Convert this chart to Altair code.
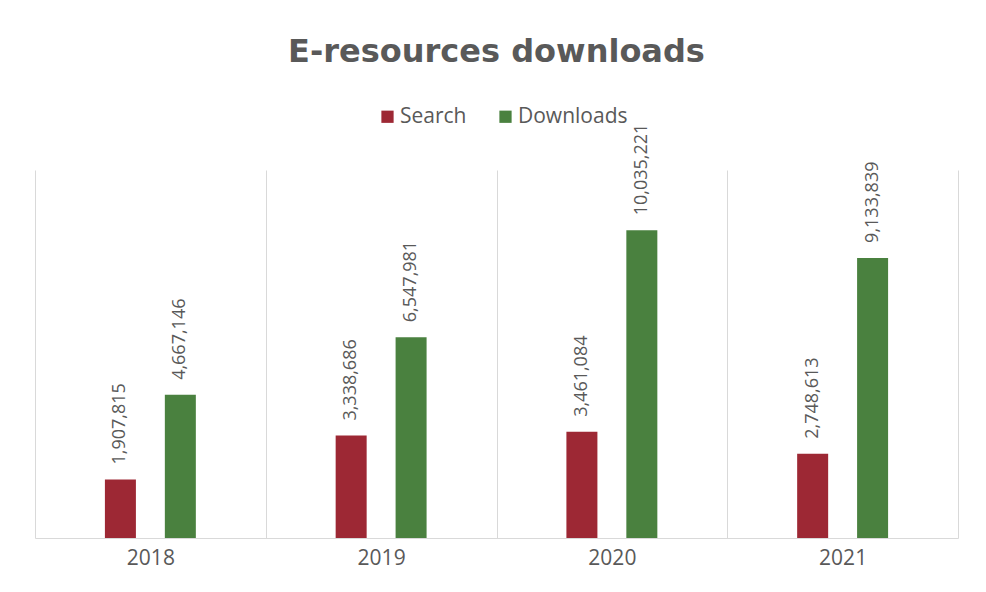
import altair as alt
import pandas as pd

years = ["2018", "2019", "2020", "2021"]
series = ["Search", "Downloads"]
search = [1907815, 3338686, 3461084, 2748613]
downloads = [4667146, 6547981, 10035221, 9133839]
colors = ["#9d2834", "#4a813f"]

rows = []
for i, y in enumerate(years):
    rows.append({"year": y, "series": "Search", "value": search[i]})
    rows.append({"year": y, "series": "Downloads", "value": downloads[i]})
df = pd.DataFrame(rows)

GRAY = "#595959"
FONT = "Open Sans"

base = alt.Chart(df).encode(
    x=alt.X("year:N", sort=years, title=None,
            scale=alt.Scale(paddingInner=0, paddingOuter=0),
            axis=alt.Axis(grid=True, tickBand="extent", gridColor="#d9d9d9",
                          domainColor="#d9d9d9", ticks=False, labelAngle=0,
                          labelFont=FONT, labelFontSize=21, labelColor=GRAY,
                          labelPadding=9)),
    xOffset=alt.XOffset("series:N", sort=series,
                        scale=alt.Scale(paddingInner=0, paddingOuter=0.925)),
    y=alt.Y("value:Q", axis=None, scale=alt.Scale(domain=[0, 12000000])),
)

bars = base.mark_bar(width=31).encode(
    color=alt.Color("series:N", sort=series,
                    scale=alt.Scale(domain=series, range=colors),
                    legend=alt.Legend(title=None, orient="none", legendX=342, legendY=-64,
                                      direction="horizontal", symbolType="square",
                                      symbolSize=150, symbolStrokeWidth=0,
                                      labelFont=FONT, labelFontSize=21, labelColor=GRAY,
                                      labelOffset=2,
                                      columnPadding=28, padding=0, symbolOpacity=1))
)

labels = base.mark_text(angle=270, align="left", baseline="middle", dx=15,
                        font=FONT, fontSize=18, color=GRAY).encode(
    text=alt.Text("value:Q", format=",")
)

chart = alt.layer(bars, labels).properties(
    width=923, height=368,
    autosize=alt.AutoSizeParams(type="none"),
    padding={"left": 27, "top": 162, "right": 20, "bottom": 46},
    background="white",
    title=alt.Title("E-resources downloads", font="DejaVu Sans", fontSize=32,
                    fontWeight="bold", color=GRAY, anchor="middle", offset=37),
).configure_view(stroke=None)

chart.save("out.html", embed_options={"renderer": "svg", "actions": False})
